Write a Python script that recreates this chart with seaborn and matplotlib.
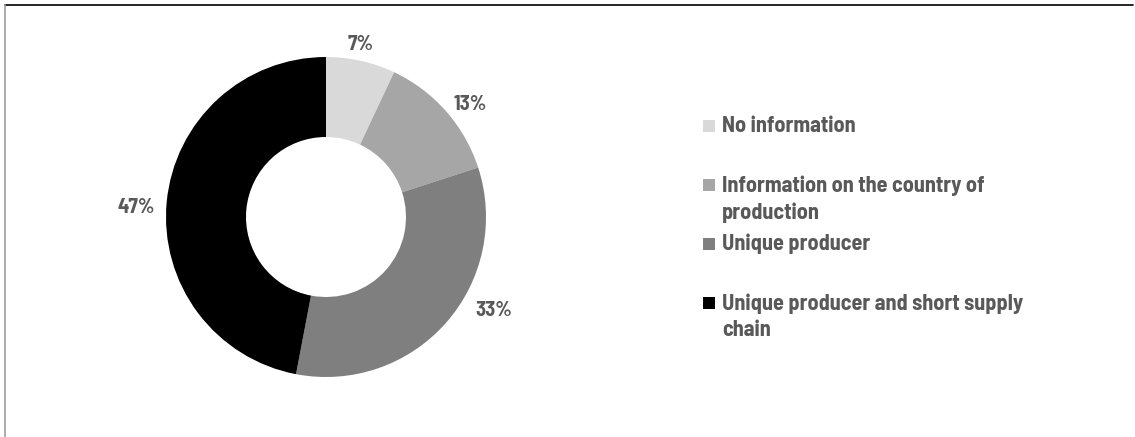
import matplotlib
matplotlib.use("Agg")
import numpy as np
import matplotlib.pyplot as plt
import matplotlib.font_manager as fm
from matplotlib.lines import Line2D
from matplotlib.patches import Rectangle
import seaborn as sns

# Share of products by traceability level
categories = [
    "No information",
    "Information on the country of\nproduction",
    "Unique producer",
    "Unique producer and short supply\nchain",
]
shares = [7, 13, 33, 47]
colors = ["#d9d9d9", "#a6a6a6", "#7f7f7f", "#000000"]

# Label anchors: (angle clockwise from 12 o'clock in degrees, radius)
label_anchor = [(11.5, 1.10), (52, 1.14), (119, 1.20), (273, 1.19)]

sns.set_theme(style="white")
available = {f.name for f in fm.fontManager.ttflist}
candidates = ["Barlow Semi Condensed", "Barlow Condensed", "Roboto Condensed",
              "Sofia Sans Semi Condensed", "DejaVu Sans"]
family = next(c for c in candidates if c in available)
plt.rcParams["font.family"] = [family, "DejaVu Sans"]

text_color = "#595959"
W, H = 1135, 437
fig = plt.figure(figsize=(W / 100, H / 100), dpi=100)
fig.patch.set_facecolor("white")

# Donut axes: center (326, 217) px, radius 160 px
cx, cy, half = 326, 217, 200
ax = fig.add_axes([(cx - half) / W, (H - cy - half) / H, 2 * half / W, 2 * half / H])
wedges, _ = ax.pie(
    shares,
    colors=colors,
    startangle=90,
    counterclock=False,
    radius=1.0,
    wedgeprops=dict(width=0.5, edgecolor="none", linewidth=0),
)
ax.set_xlim(-1.25, 1.25)
ax.set_ylim(-1.25, 1.25)
ax.set_aspect("equal")
ax.axis("off")

for val, (ang, r) in zip(shares, label_anchor):
    t = np.deg2rad(ang)
    ax.text(r * np.sin(t), r * np.cos(t), f"{val}%", ha="center", va="center",
            fontsize=15, fontweight="bold", color=text_color)

# Legend drawn as squares with wrapped labels; squares sit beside the first line
leg_x = 703
first_y = 126
step = 59
box = 12
for i, (lab, col) in enumerate(zip(categories, colors)):
    y = first_y + i * step
    fig.add_artist(Rectangle((leg_x / W, (H - y - box / 2) / H), box / W, box / H,
                             transform=fig.transFigure, facecolor=col, edgecolor="none"))
    fig.text((leg_x + 19) / W, (H - y + 10) / H, lab, ha="left", va="top",
             fontsize=16, fontweight="bold", color=text_color, linespacing=1.4,
             transform=fig.transFigure)

# Outer frame (top and left edges)
fig.add_artist(Line2D([5 / W, 1133 / W], [(H - 5) / H] * 2, color="#000000", lw=1.2,
                      transform=fig.transFigure))
fig.add_artist(Line2D([5 / W] * 2, [0, (H - 5) / H], color="#a0a0a0", lw=1.2,
                      transform=fig.transFigure))

fig.savefig("out.png", dpi=100, facecolor="white")
